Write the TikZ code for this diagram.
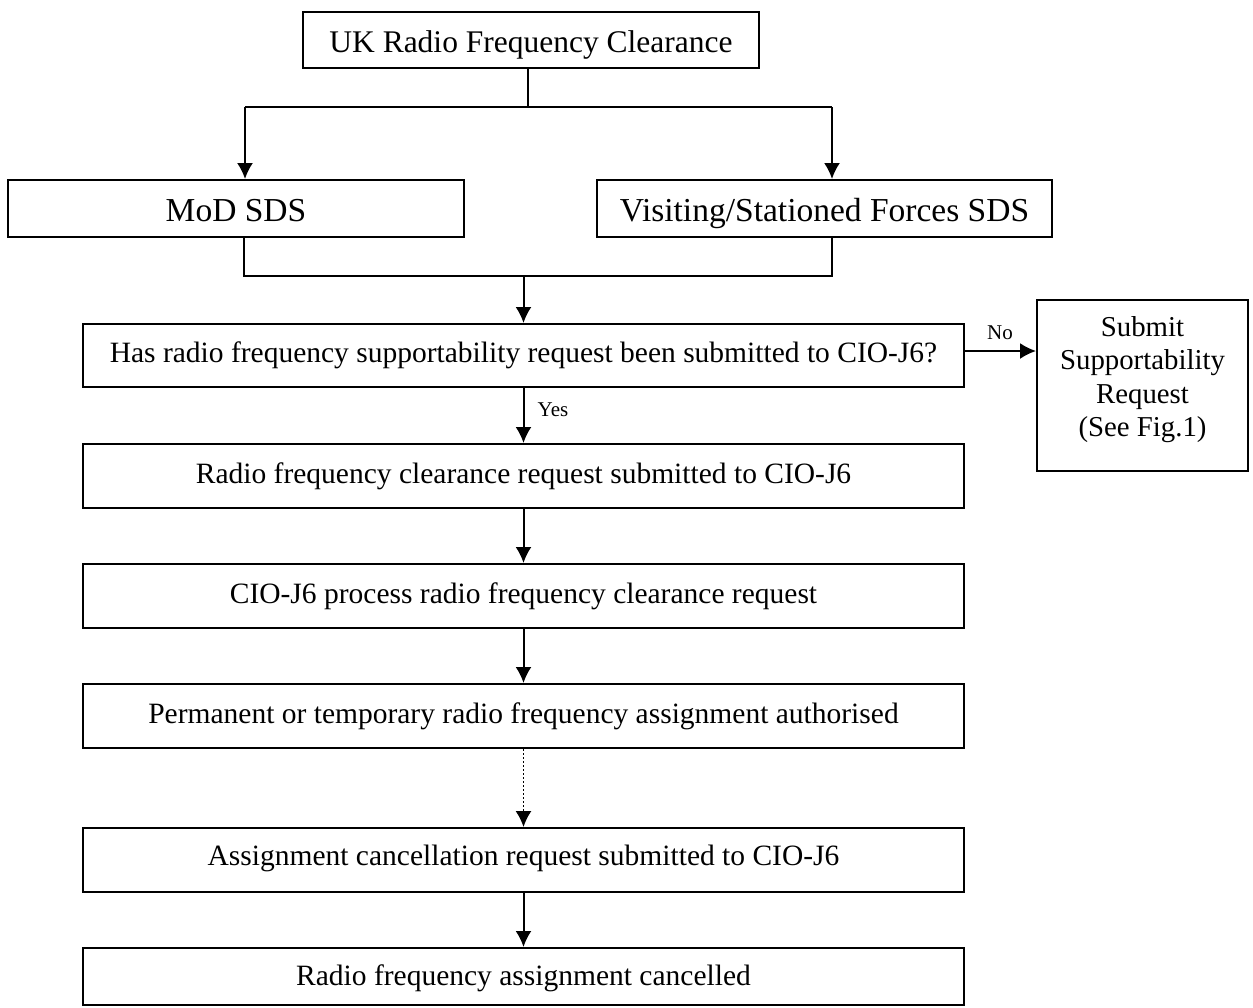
\documentclass[tikz,border=0pt]{standalone}
\usepackage{fontspec}
\setmainfont{Liberation Serif}
\usetikzlibrary{arrows.meta}
\begin{document}
\begin{tikzpicture}[x=1pt,y=-1pt,
  box/.style={draw,line width=2pt,inner sep=0pt,align=center},
  bigtxt/.style={font=\fontsize{31.5}{36}\selectfont,text height=24pt,text depth=0pt},
  sdstxt/.style={font=\fontsize{33.5}{38}\selectfont,text height=25pt,text depth=0pt},
  midtxt/.style={font=\fontsize{29.5}{34}\selectfont,text height=20pt,text depth=6pt},
  subtxt/.style={font=\fontsize{28.8}{33.2}\selectfont,text height=107.6pt,text depth=6pt},
  lbl/.style={font=\fontsize{21}{24}\selectfont,inner sep=0pt},
  conn/.style={line width=2pt},
  arr/.style={line width=2pt,-{Latex[length=16pt,width=16pt]}},
  dotarr/.style={line width=1.6pt,dash pattern=on 1.6pt off 2.4pt,-{Latex[length=16pt,width=16pt]}}
]
\useasboundingbox (0,0) rectangle (1253,1007);
\node[box,bigtxt,minimum width=456pt,minimum height=56pt] (top) at (531,40) {UK Radio Frequency Clearance};
\node[box,sdstxt,minimum width=456pt,minimum height=57pt] (mod) at (236,208.5) {MoD SDS};
\node[box,sdstxt,minimum width=455pt,minimum height=57pt] (vis) at (824.5,208.5) {Visiting/Stationed Forces SDS};
\node[box,midtxt,minimum width=881pt,minimum height=63pt] (q) at (523.5,355.5) {Has radio frequency supportability request been submitted to CIO-J6?};
\node[box,subtxt,minimum width=211pt,minimum height=171pt] (sub) at (1142.5,385.5) {Submit\\Supportability\\Request\\(See Fig.1)};
\node[box,midtxt,minimum width=881pt,minimum height=64pt] (r1) at (523.5,476) {Radio frequency clearance request submitted to CIO-J6};
\node[box,midtxt,minimum width=881pt,minimum height=64pt] (r2) at (523.5,596) {CIO-J6 process radio frequency clearance request};
\node[box,midtxt,minimum width=881pt,minimum height=64pt] (r3) at (523.5,716) {Permanent or temporary radio frequency assignment authorised};
\node[box,midtxt,text depth=9pt,minimum width=881pt,minimum height=64pt] (r4) at (523.5,860) {Assignment cancellation request submitted to CIO-J6};
\node[box,midtxt,text depth=2pt,minimum width=881pt,minimum height=57pt] (r5) at (523.5,976.5) {Radio frequency assignment cancelled};

\coordinate (jt) at (527.5,107);
\coordinate (jl) at (245,107);
\coordinate (jr) at (832,107);
\draw[conn] (top.south -| jt) -- (jt);
\draw[conn] (jl) -- (jr);
\draw[arr] (jl) -- (jl |- mod.north);
\draw[arr] (jr) -- (jr |- vis.north);

\coordinate (bl) at (244,276);
\coordinate (br) at (832,276);
\coordinate (bm) at (523.5,276);
\draw[conn] (bl |- mod.south) -- (bl) -- (br) -- (br |- vis.south);
\draw[arr] (bm) -- (q.north);

\coordinate (ne) at (964,351);
\draw[arr] (ne) -- (ne -| sub.west);
\node[lbl] (no) at (1000,333) {No};

\draw[arr] (q.south) -- (r1.north);
\node[lbl] (yes) at (553,410) {Yes};
\draw[arr] (r1.south) -- (r2.north);
\draw[arr] (r2.south) -- (r3.north);
\draw[dotarr] (r3.south) -- (r4.north);
\draw[arr] (r4.south) -- (r5.north);
\end{tikzpicture}
\end{document}
